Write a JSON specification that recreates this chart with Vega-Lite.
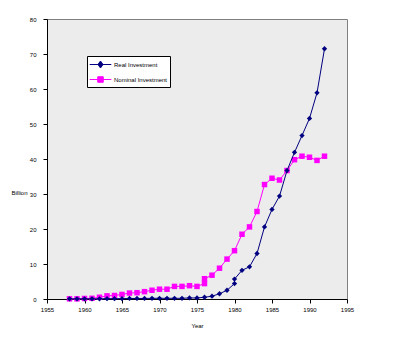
{
  "$schema": "https://vega.github.io/schema/vega-lite/v6.json",
  "width": 300,
  "height": 280,
  "autosize": {"type": "none"},
  "padding": {"left": 47, "top": 19, "right": 54, "bottom": 47},
  "background": "white",
  "config": {
    "font": "Liberation Sans",
    "view": {"fill": "#ECECEC", "stroke": "#808080", "strokeWidth": 1},
    "axis": {
      "grid": false,
      "domainColor": "black",
      "tickColor": "black",
      "labelColor": "black",
      "titleColor": "black",
      "labelFont": "Liberation Sans",
      "titleFont": "Liberation Sans",
      "labelFontSize": 6,
      "titleFontSize": 6,
      "titleFontWeight": "normal",
      "tickSize": 4,
      "domainWidth": 1,
      "tickWidth": 1
    }
  },
  "data": {
    "values": [
      {"series": "Nominal Investment", "year": 1958, "value": 0.05},
      {"series": "Nominal Investment", "year": 1959, "value": 0.05},
      {"series": "Nominal Investment", "year": 1960, "value": 0.15},
      {"series": "Nominal Investment", "year": 1961, "value": 0.2},
      {"series": "Nominal Investment", "year": 1962, "value": 0.5},
      {"series": "Nominal Investment", "year": 1963, "value": 0.9},
      {"series": "Nominal Investment", "year": 1964, "value": 1.0},
      {"series": "Nominal Investment", "year": 1965, "value": 1.3},
      {"series": "Nominal Investment", "year": 1966, "value": 1.7},
      {"series": "Nominal Investment", "year": 1967, "value": 1.8},
      {"series": "Nominal Investment", "year": 1968, "value": 2.1},
      {"series": "Nominal Investment", "year": 1969, "value": 2.5},
      {"series": "Nominal Investment", "year": 1970, "value": 2.8},
      {"series": "Nominal Investment", "year": 1971, "value": 2.8},
      {"series": "Nominal Investment", "year": 1972, "value": 3.6},
      {"series": "Nominal Investment", "year": 1973, "value": 3.6},
      {"series": "Nominal Investment", "year": 1974, "value": 3.8},
      {"series": "Nominal Investment", "year": 1975, "value": 3.6},
      {"series": "Nominal Investment", "year": 1976, "value": 4.4},
      {"series": "Nominal Investment", "year": 1976, "value": 5.8},
      {"series": "Nominal Investment", "year": 1977, "value": 6.8},
      {"series": "Nominal Investment", "year": 1978, "value": 8.8},
      {"series": "Nominal Investment", "year": 1979, "value": 11.4},
      {"series": "Nominal Investment", "year": 1980, "value": 13.8},
      {"series": "Nominal Investment", "year": 1981, "value": 18.5},
      {"series": "Nominal Investment", "year": 1982, "value": 20.6},
      {"series": "Nominal Investment", "year": 1983, "value": 25.0},
      {"series": "Nominal Investment", "year": 1984, "value": 32.7},
      {"series": "Nominal Investment", "year": 1985, "value": 34.5},
      {"series": "Nominal Investment", "year": 1986, "value": 34.0},
      {"series": "Nominal Investment", "year": 1987, "value": 36.7},
      {"series": "Nominal Investment", "year": 1988, "value": 39.8},
      {"series": "Nominal Investment", "year": 1989, "value": 40.8},
      {"series": "Nominal Investment", "year": 1990, "value": 40.5},
      {"series": "Nominal Investment", "year": 1991, "value": 39.6},
      {"series": "Nominal Investment", "year": 1992, "value": 40.8},
      {"series": "Real Investment", "year": 1958, "value": 0.05},
      {"series": "Real Investment", "year": 1959, "value": 0.05},
      {"series": "Real Investment", "year": 1960, "value": 0.05},
      {"series": "Real Investment", "year": 1961, "value": 0.05},
      {"series": "Real Investment", "year": 1962, "value": 0.05},
      {"series": "Real Investment", "year": 1963, "value": 0.1},
      {"series": "Real Investment", "year": 1964, "value": 0.1},
      {"series": "Real Investment", "year": 1965, "value": 0.1},
      {"series": "Real Investment", "year": 1966, "value": 0.15},
      {"series": "Real Investment", "year": 1967, "value": 0.15},
      {"series": "Real Investment", "year": 1968, "value": 0.15},
      {"series": "Real Investment", "year": 1969, "value": 0.2},
      {"series": "Real Investment", "year": 1970, "value": 0.2},
      {"series": "Real Investment", "year": 1971, "value": 0.2},
      {"series": "Real Investment", "year": 1972, "value": 0.2},
      {"series": "Real Investment", "year": 1973, "value": 0.2},
      {"series": "Real Investment", "year": 1974, "value": 0.3},
      {"series": "Real Investment", "year": 1975, "value": 0.3},
      {"series": "Real Investment", "year": 1976, "value": 0.5},
      {"series": "Real Investment", "year": 1977, "value": 0.8},
      {"series": "Real Investment", "year": 1978, "value": 1.5},
      {"series": "Real Investment", "year": 1979, "value": 2.5},
      {"series": "Real Investment", "year": 1980, "value": 4.4},
      {"series": "Real Investment", "year": 1980, "value": 5.7},
      {"series": "Real Investment", "year": 1981, "value": 8.2},
      {"series": "Real Investment", "year": 1982, "value": 9.2},
      {"series": "Real Investment", "year": 1983, "value": 13.0},
      {"series": "Real Investment", "year": 1984, "value": 20.6},
      {"series": "Real Investment", "year": 1985, "value": 25.6},
      {"series": "Real Investment", "year": 1986, "value": 29.4},
      {"series": "Real Investment", "year": 1987, "value": 36.7},
      {"series": "Real Investment", "year": 1988, "value": 41.9},
      {"series": "Real Investment", "year": 1989, "value": 46.7},
      {"series": "Real Investment", "year": 1990, "value": 51.6},
      {"series": "Real Investment", "year": 1991, "value": 58.9},
      {"series": "Real Investment", "year": 1992, "value": 71.5}
    ]
  },
  "encoding": {
    "x": {
      "field": "year",
      "type": "quantitative",
      "scale": {"domain": [1955, 1995], "nice": false, "zero": false},
      "axis": {
        "values": [1955, 1960, 1965, 1970, 1975, 1980, 1985, 1990, 1995],
        "format": "d",
        "title": "Year",
        "labelPadding": 3,
        "titlePadding": 10,
        "labelFlush": false
      }
    },
    "y": {
      "field": "value",
      "type": "quantitative",
      "scale": {"domain": [0, 80], "nice": false},
      "axis": {
        "values": [0, 10, 20, 30, 40, 50, 60, 70, 80],
        "title": "Billion",
        "titleAngle": 0,
        "titleX": -28,
        "titleY": 173,
        "titleAlign": "center",
        "titleBaseline": "middle",
        "labelPadding": 7
      }
    },
    "color": {
      "field": "series",
      "type": "nominal",
      "scale": {"domain": ["Real Investment", "Nominal Investment"], "range": ["#000080", "#FF00FF"]},
      "legend": {
        "title": null,
        "orient": "none",
        "legendX": 40,
        "legendY": 37,
        "fillColor": "white",
        "strokeColor": "black",
        "padding": 2,
        "rowPadding": 3,
        "labelFont": "Liberation Sans",
        "labelFontSize": 6,
        "labelColor": "black",
        "symbolSize": 144,
        "symbolOffset": 5,
        "labelOffset": 7,
        "encode": {
          "symbols": {
            "update": {
              "shape": {"signal": "datum.value === 'Real Investment' ? 'M-1.8,0L1.8,0M0,-0.58L0.42,0L0,0.58L-0.42,0Z' : 'M-1.8,0L1.8,0M-0.46,-0.46L0.46,-0.46L0.46,0.46L-0.46,0.46Z'"},
              "fill": {"signal": "scale('color', datum.value)"},
              "stroke": {"signal": "scale('color', datum.value)"},
              "strokeWidth": {"value": 1},
              "opacity": {"value": 1}
            }
          }
        }
      }
    }
  },
  "layer": [
    {
      "transform": [{"filter": "datum.series === 'Nominal Investment'"}],
      "mark": {"type": "line", "strokeWidth": 1}
    },
    {
      "transform": [{"filter": "datum.series === 'Nominal Investment'"}],
      "mark": {"type": "point", "filled": true, "opacity": 1, "size": 30, "shape": "square"}
    },
    {
      "transform": [{"filter": "datum.series === 'Real Investment'"}],
      "mark": {"type": "line", "strokeWidth": 1}
    },
    {
      "transform": [{"filter": "datum.series === 'Real Investment'"}],
      "mark": {"type": "point", "filled": true, "opacity": 1, "size": 28, "shape": "diamond"}
    }
  ]
}
